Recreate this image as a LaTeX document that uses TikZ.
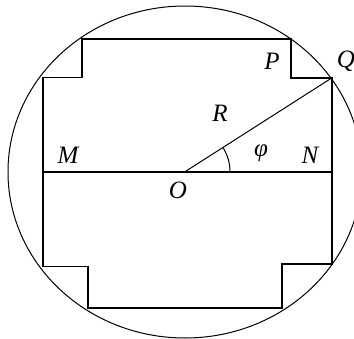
\documentclass[tikz,border=0pt]{standalone}
\usepackage{fontspec}
\setmainfont{Liberation Serif}
\usetikzlibrary{calc}
\begin{document}
\begin{tikzpicture}[x=1pt,y=-1pt,
  edge/.style={line width=1.8pt,line join=miter},
  thin line/.style={line width=1pt},
  lbl/.style={inner sep=0pt,font=\fontsize{25}{30}\selectfont\itshape}]
\useasboundingbox (0,0) rectangle (354,338);
\clip (0,0) rectangle (354,338);
\fill[white] (0,0) rectangle (354,338);
\draw[thin line] (185,172) ellipse [x radius=177, y radius=166];
% corner points
\coordinate (O) at (185,171.7);
\coordinate (Q) at (331.7,78);
\coordinate (Pt) at (291,39.3);
\coordinate (P) at (291,78);
\coordinate (TL) at (81.7,39.3);
\coordinate (TLi) at (81.7,77.5);
\coordinate (LT) at (42.7,77.5);
\coordinate (M) at (42.7,171.7);
\coordinate (N) at (331.7,171.7);
\coordinate (LB) at (42.7,266.5);
\coordinate (BLi) at (87.7,266.5);
\coordinate (BL) at (87.7,308.3);
\coordinate (BR) at (281.7,308.3);
\coordinate (BRi) at (281.7,264);
\coordinate (RB) at (331.7,264);
\coordinate (A) at ($(O)+(45,0)$);
\draw[edge] (TL) -- (Pt) -- (P) -- (Q) -- (RB) -- (BRi) -- (BR) -- (BL) -- (BLi) -- (LB) -- (LT) -- (TLi) -- cycle;
\draw[edge] (M) -- (N);
\draw[thin line] (O) -- (Q);
\draw[thin line] (A) arc[start angle=0, end angle=-32.6, radius=45];
\node[lbl] (lM) at (68,155) {M};
\node[lbl] (lP) at (272,61) {P};
\node[lbl] (lQ) at (346,61) {Q};
\node[lbl] (lR) at (220,113) {R};
\node[lbl] (lphi) at (261,153) {φ};
\node[lbl] (lN) at (310,155) {N};
\node[lbl] (lO) at (178,190) {O};
\end{tikzpicture}
\end{document}
